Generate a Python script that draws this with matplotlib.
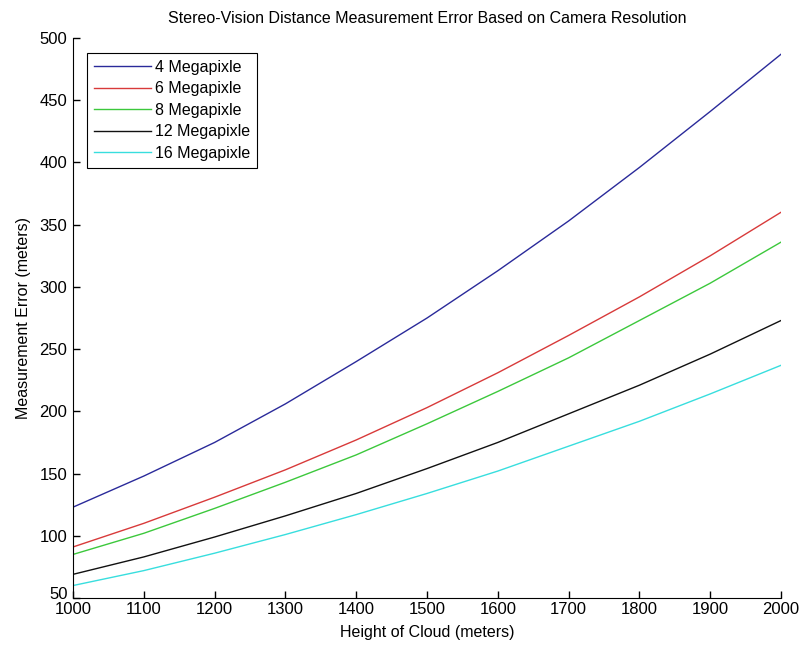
import numpy as np
import matplotlib
matplotlib.use('Agg')
import matplotlib.pyplot as plt
import matplotlib.transforms as mtransforms

# cloud heights (m) and measurement error (m) per camera resolution
heights = [1000, 1100, 1200, 1300, 1400, 1500, 1600, 1700, 1800, 1900, 2000]
err_4mp = [123, 148, 175, 206, 240, 275, 313, 353, 396, 441, 487]
err_6mp = [91, 110, 131, 153, 177, 203, 231, 261, 292, 325, 360]
err_8mp = [85, 102, 122, 143, 165, 190, 216, 243, 273, 303, 336]
err_12mp = [69, 83, 99, 116, 134, 154, 175, 198, 221, 246, 273]
err_16mp = [60, 72, 86, 101, 117, 134, 152, 172, 192, 214, 237]

labels = ['4 Megapixle', '6 Megapixle', '8 Megapixle', '12 Megapixle', '16 Megapixle']
colors = ['#2a2a9a', '#d83a3a', '#3cc83c', '#111111', '#38dede']

plt.rcParams['font.family'] = ['Liberation Sans', 'DejaVu Sans']

fig = plt.figure(figsize=(7.99, 6.45), dpi=100)
ax = fig.add_axes([0.0914, 0.0729, 0.8861, 0.8681])

series = [err_4mp, err_6mp, err_8mp, err_12mp, err_16mp]
for vals, lab, col in zip(series, labels, colors):
    ax.plot(heights, vals, color=col, lw=1.0, label=lab)

ax.set_xlim(1000, 2000)
ax.set_ylim(50, 500)
ax.set_xticks(np.arange(1000, 2001, 100))
ax.set_yticks(np.arange(50, 501, 50))
ax.tick_params(direction='in', length=5, width=1, labelsize=12, colors='black')
ax.tick_params(axis='y', pad=4)
ax.tick_params(axis='x', pad=3)
ax.spines['top'].set_visible(False)
ax.spines['right'].set_visible(False)

# nudge the bottom y label up a bit so it does not sit on "1000"
fig.canvas.draw()
ylab0 = ax.get_yticklabels()[0]
ylab0.set_transform(ylab0.get_transform() +
                    mtransforms.ScaledTranslation(0, 5 / 100, fig.dpi_scale_trans))

ax.set_title('Stereo-Vision Distance Measurement Error Based on Camera Resolution',
             fontsize=11.5, pad=11)
ax.set_xlabel('Height of Cloud (meters)', fontsize=11.5, labelpad=6)
ax.set_ylabel('Measurement Error (meters)', fontsize=11.5, labelpad=6)

leg = ax.legend(loc='upper left', fontsize=11.5, handlelength=3.6, handletextpad=0.2,
                fancybox=False, framealpha=1, edgecolor='black',
                borderpad=0.45, labelspacing=0.4, bbox_to_anchor=(0.008, 0.988))
leg.get_frame().set_linewidth(0.8)

fig.savefig('out.png', dpi=100)
